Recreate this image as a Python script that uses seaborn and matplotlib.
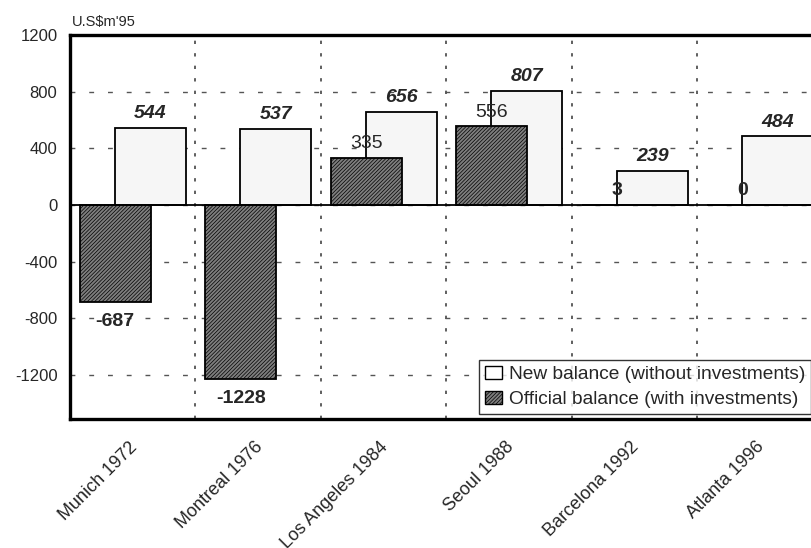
import numpy as np
import pandas as pd
import matplotlib
matplotlib.use("Agg")
import matplotlib.pyplot as plt
import matplotlib.transforms as mtransforms
from matplotlib.patches import Patch
import seaborn as sns

# Olympic Games budget balances, millions of 1995 US dollars
games = ["Munich 1972", "Montreal 1976", "Los Angeles 1984",
         "Seoul 1988", "Barcelona 1992", "Atlanta 1996"]
new_balance = [544, 537, 656, 807, 239, 484]
official_balance = [-687, -1228, 335, 556, 3, 0]
y_ticks = [1200, 800, 400, 0, -400, -800, -1200]
unit_label = "U.S$m'95"
legend_labels = ["New balance (without investments)",
                 "Official balance (with investments)"]

sns.set_theme(style="white")
plt.rcParams["font.family"] = ["Liberation Sans", "DejaVu Sans"]
plt.rcParams["hatch.linewidth"] = 0.5

fig = plt.figure(figsize=(8.12, 5.48), dpi=100)
ax = fig.add_axes([0.0862, 0.2354, 0.9273, 0.7007])

idx = np.arange(len(games))
shift = 0.14
bar_w = 0.565
dark = "#7e7e7e"
light = "#f6f6f6"
df_new = pd.DataFrame({"pos": idx + shift, "value": new_balance})
df_off = pd.DataFrame({"pos": idx - shift, "value": official_balance})

sns.barplot(data=df_new, x="pos", y="value", native_scale=True, width=bar_w,
            color=light, saturation=1, edgecolor="black", linewidth=1.3,
            ax=ax, zorder=2)
n_new = len(ax.patches)
sns.barplot(data=df_off, x="pos", y="value", native_scale=True, width=bar_w,
            color=dark, saturation=1, edgecolor="black", linewidth=1.3,
            ax=ax, zorder=3)
for p in ax.patches[n_new:]:
    p.set_hatch("/////////")

ax.set_xlim(-0.5, len(games) - 0.5)
ax.set_ylim(-1510, 1200)
ax.set_xlabel("")
ax.set_ylabel("")

# zero baseline
ax.axhline(0, color="black", lw=1.3, zorder=4)

# grid: dashed horizontals at y ticks, dotted verticals between groups
ax.set_yticks(y_ticks)
ax.set_yticklabels([str(v) for v in y_ticks], fontsize=12)
ax.set_xticks(idx)
ax.set_xticks(idx[:-1] + 0.5, minor=True)
ax.grid(axis="y", which="major", color="#555555", lw=1.0,
        linestyle=(0, (3.5, 10)), zorder=0)
ax.grid(axis="x", which="minor", color="#444444", lw=1.2,
        linestyle=(0, (2, 5.5)), zorder=0)
ax.grid(axis="x", which="major", visible=False)
ax.set_axisbelow(True)
ax.tick_params(axis="both", which="both", length=0)
ax.tick_params(axis="y", pad=9)
ax.tick_params(axis="x", pad=14)

offset = mtransforms.ScaledTranslation(-3 / 72, 0, fig.dpi_scale_trans)
ax.set_xticklabels(games, rotation=45, ha="right", va="top",
                   rotation_mode="anchor", fontsize=13)
for lbl in ax.get_xticklabels():
    lbl.set_transform(lbl.get_transform() + offset)

for s in ["left", "top", "bottom"]:
    ax.spines[s].set_visible(True)
    ax.spines[s].set_color("black")
    ax.spines[s].set_linewidth(2.4)
ax.spines["right"].set_visible(False)

# value labels
for x, v in zip(idx + shift, new_balance):
    ax.annotate(str(v), (x, v), xytext=(0, 7), textcoords="offset points",
                ha="center", va="baseline", fontsize=14,
                fontweight="bold", fontstyle="italic", zorder=6)
for x, v in zip(idx - shift, official_balance):
    weight = "normal" if v > 100 else "bold"
    if v >= 0:
        ax.annotate(str(v), (x, v), xytext=(0, 7), textcoords="offset points",
                    ha="center", va="baseline", fontsize=14,
                    fontweight=weight, zorder=6)
    else:
        ax.annotate(str(v), (x, v), xytext=(0, -8), textcoords="offset points",
                    ha="center", va="top", fontsize=14,
                    fontweight=weight, zorder=6)

fig.text(72 / 812, 1 - 22 / 548, unit_label, fontsize=10.5, va="center",
         ha="left")

handles = [Patch(facecolor="white", edgecolor="black", lw=1.0),
           Patch(facecolor=dark, edgecolor="black", lw=1.0,
                 hatch="/////////")]
leg = ax.legend(handles, legend_labels, loc="upper left",
                bbox_to_anchor=(479 / 812, 1 - 360 / 548),
                bbox_transform=fig.transFigure, borderaxespad=0,
                frameon=True, fancybox=False, fontsize=13.8,
                handlelength=0.9, handleheight=0.7, handletextpad=0.35,
                labelspacing=0.4, borderpad=0.3)
leg.get_frame().set_edgecolor("black")
leg.get_frame().set_linewidth(1.0)
leg.set_zorder(7)

fig.savefig("out.png", dpi=100, facecolor="white")
